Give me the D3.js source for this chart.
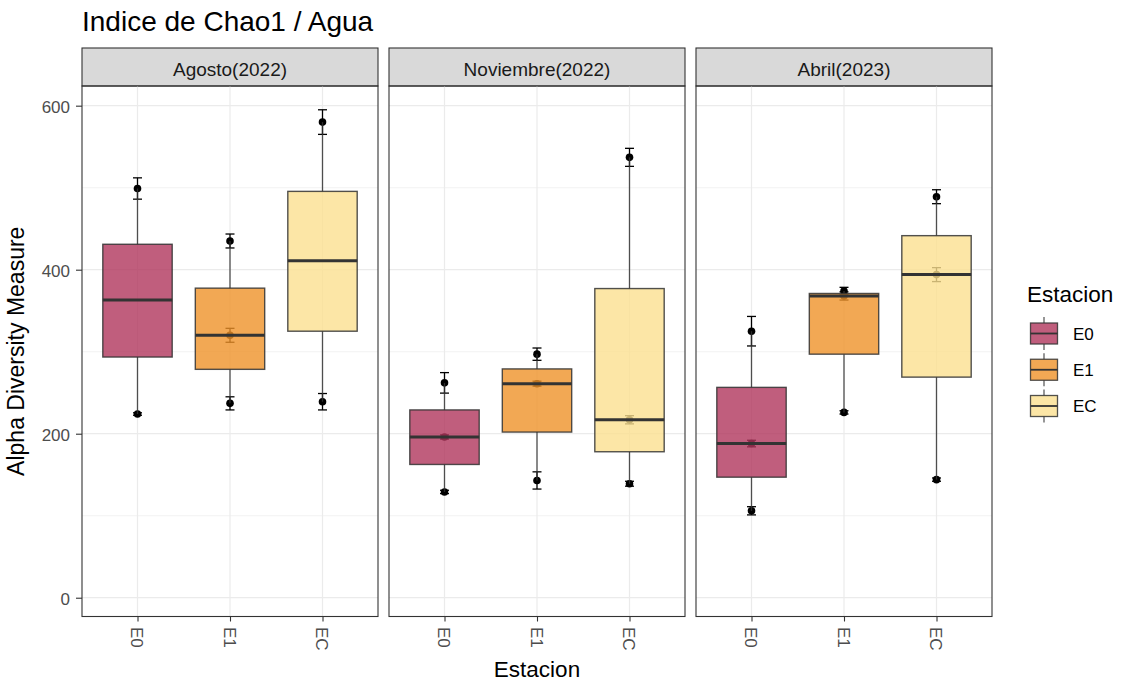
<!DOCTYPE html>
<html>
<head>
<meta charset="utf-8">
<script src="https://cdn.jsdelivr.net/npm/d3@7"></script>
<style>
  body { margin: 0; background: #fff; }
  text { font-family: "Liberation Sans", Arial, sans-serif; }
</style>
</head>
<body>
<div id="chart"></div>
<script>
// facets, stations and fill colours
const periods = ["Agosto(2022)", "Noviembre(2022)", "Abril(2023)"];
const stations = ["E0", "E1", "EC"];
const stationColors = ["#b0365c", "#ef9229", "#fbe090"];

// Chao1 of the three samples per station: [low, middle, high]
const agostoChao1 = [[224, 363, 499], [237, 320, 435], [239, 411, 580]];
const noviembreChao1 = [[129, 196, 262], [143, 261, 297], [139, 217, 537]];
const abrilChao1 = [[106, 188, 325], [226, 368, 374], [144, 394, 489]];

// standard error of each sample point (null = point not shown)
const agostoSe = [[1.5, null, 13], [8, 8.5, 8.5], [10, null, 15]];
const noviembreSe = [[2, 2.5, 12.5], [10.5, 3, 7.5], [3, 5, 11]];
const abrilSe = [[5, 4, 18], [2, 5, 4.5], [2, 8.5, 8.5]];

const yTicks = [0, 200, 400, 600];
const yMinor = [100, 300, 500];

const chao1ByPeriod = [agostoChao1, noviembreChao1, abrilChao1];
const seByPeriod = [agostoSe, noviembreSe, abrilSe];

// layout
let W = 1125, H = 684;
let panelTop = 86, panelBottom = 616.5, stripTop = 48;
let panelW = 296, panelGap = 11, firstLeft = 82;

let svg = d3.select("#chart")
    .append("svg")
    .attr("width", W)
    .attr("height", H);

let y = d3.scaleLinear()
    .domain([-22.9, 624])
    .range([panelBottom, panelTop]);

let x = d3.scalePoint()
    .domain(stations)
    .range([0, panelW])
    .padding(0.6);

let step = x.step();
let boxW = step * 0.75;

// title
svg.append("text")
    .attr("x", 82)
    .attr("y", 31)
    .attr("font-size", 28)
    .attr("fill", "#000")
    .text("Indice de Chao1 / Agua");

periods.forEach(function (period, pi) {
    let left = firstLeft + pi * (panelW + panelGap);
    let g = svg.append("g").attr("transform", "translate(" + left + ",0)");

    // strip
    g.append("rect")
        .attr("x", 0).attr("y", stripTop)
        .attr("width", panelW).attr("height", panelTop - stripTop)
        .attr("fill", "#d9d9d9")
        .attr("stroke", "#333").attr("stroke-width", 1.1);
    g.append("text")
        .attr("x", panelW / 2).attr("y", 76)
        .attr("text-anchor", "middle")
        .attr("font-size", 19)
        .attr("fill", "#1a1a1a")
        .text(period);

    // grid
    g.selectAll(".minor")
        .data(yMinor).enter().append("line")
        .attr("x1", 0).attr("x2", panelW)
        .attr("y1", d => y(d)).attr("y2", d => y(d))
        .attr("stroke", "#ebebeb").attr("stroke-width", 0.6);
    g.selectAll(".major")
        .data(yTicks).enter().append("line")
        .attr("x1", 0).attr("x2", panelW)
        .attr("y1", d => y(d)).attr("y2", d => y(d))
        .attr("stroke", "#ebebeb").attr("stroke-width", 1.2);
    g.selectAll(".vgrid")
        .data(stations).enter().append("line")
        .attr("x1", d => x(d)).attr("x2", d => x(d))
        .attr("y1", panelTop).attr("y2", panelBottom)
        .attr("stroke", "#ebebeb").attr("stroke-width", 1.2);

    let vals = chao1ByPeriod[pi];
    let ses = seByPeriod[pi];

    // sample points with error bars (drawn below the boxes)
    let pts = [];
    stations.forEach(function (s, si) {
        vals[si].forEach(function (v, k) {
            if (ses[si][k] !== null) pts.push({ s: s, v: v, se: ses[si][k] });
        });
    });
    let pg = g.append("g");
    pts.forEach(function (d) {
        let cx = x(d.s);
        pg.append("line")
            .attr("x1", cx).attr("x2", cx)
            .attr("y1", y(d.v - d.se)).attr("y2", y(d.v + d.se))
            .attr("stroke", "#000").attr("stroke-width", 1.3);
        [d.v - d.se, d.v + d.se].forEach(function (e) {
            pg.append("line")
                .attr("x1", cx - 4.5).attr("x2", cx + 4.5)
                .attr("y1", y(e)).attr("y2", y(e))
                .attr("stroke", "#000").attr("stroke-width", 1.3);
        });
        pg.append("circle")
            .attr("cx", cx).attr("cy", y(d.v))
            .attr("r", 3.8)
            .attr("fill", "#000");
    });

    // boxplots
    stations.forEach(function (s, si) {
        let sorted = vals[si].slice().sort(d3.ascending);
        let q1 = d3.quantile(sorted, 0.25);
        let med = d3.quantile(sorted, 0.5);
        let q3 = d3.quantile(sorted, 0.75);
        let lo = d3.min(sorted), hi = d3.max(sorted);
        let cx = x(s);
        let bg = g.append("g");
        bg.append("line")
            .attr("x1", cx).attr("x2", cx)
            .attr("y1", y(hi)).attr("y2", y(q3))
            .attr("stroke", "#333").attr("stroke-opacity", 0.85).attr("stroke-width", 1.3);
        bg.append("line")
            .attr("x1", cx).attr("x2", cx)
            .attr("y1", y(q1)).attr("y2", y(lo))
            .attr("stroke", "#333").attr("stroke-opacity", 0.85).attr("stroke-width", 1.3);
        bg.append("rect")
            .attr("x", cx - boxW / 2).attr("width", boxW)
            .attr("y", y(q3)).attr("height", y(q1) - y(q3))
            .attr("fill", stationColors[si]).attr("fill-opacity", 0.8)
            .attr("stroke", "#333").attr("stroke-opacity", 0.85).attr("stroke-width", 1.4);
        bg.append("line")
            .attr("x1", cx - boxW / 2).attr("x2", cx + boxW / 2)
            .attr("y1", y(med)).attr("y2", y(med))
            .attr("stroke", "#333").attr("stroke-width", 3);
    });

    // panel border
    g.append("rect")
        .attr("x", 0).attr("y", panelTop)
        .attr("width", panelW).attr("height", panelBottom - panelTop)
        .attr("fill", "none")
        .attr("stroke", "#333").attr("stroke-width", 1.1);

    // x axis
    let xAxis = g.append("g")
        .attr("transform", "translate(0," + panelBottom + ")")
        .call(d3.axisBottom(x).tickSize(5).tickPadding(0).tickFormat(""));
    xAxis.select(".domain").remove();
    xAxis.selectAll(".tick line").attr("stroke", "#333").attr("stroke-width", 1.1);
    g.selectAll(".xlab")
        .data(stations).enter().append("text")
        .attr("transform", d => "translate(" + x(d) + ",627) rotate(90)")
        .attr("dy", "0.36em")
        .attr("font-size", 17)
        .attr("fill", "#4d4d4d")
        .text(d => d);

    // y axis on first panel
    if (pi === 0) {
        let yAxis = g.append("g")
            .call(d3.axisLeft(y).tickValues(yTicks).tickSize(6).tickPadding(6));
        yAxis.select(".domain").remove();
        yAxis.selectAll(".tick line").attr("stroke", "#333").attr("stroke-width", 1.1);
        yAxis.selectAll(".tick text")
            .attr("font-size", 17)
            .attr("font-family", "Liberation Sans, Arial, sans-serif")
            .attr("fill", "#4d4d4d")
            .attr("dy", "0.4em");
    }
});

// axis titles
svg.append("text")
    .attr("x", 537).attr("y", 677)
    .attr("text-anchor", "middle")
    .attr("font-size", 22.5)
    .text("Estacion");
svg.append("text")
    .attr("transform", "translate(24," + ((panelTop + panelBottom) / 2) + ") rotate(-90)")
    .attr("text-anchor", "middle")
    .attr("font-size", 23)
    .text("Alpha Diversity Measure");

// legend
let legend = svg.append("g");
legend.append("text")
    .attr("x", 1027).attr("y", 302)
    .attr("font-size", 22.5)
    .text("Estacion");
let keyY = d3.scalePoint().domain(stations).range([333.5, 406]);
stations.forEach(function (s, si) {
    let cy = keyY(s);
    let cx = 1044;
    legend.append("line")
        .attr("x1", cx).attr("x2", cx)
        .attr("y1", cy - 16.5).attr("y2", cy + 16.5)
        .attr("stroke", "#333").attr("stroke-opacity", 0.85).attr("stroke-width", 1.2);
    legend.append("rect")
        .attr("x", 1030.5).attr("y", cy - 10.5)
        .attr("width", 27).attr("height", 21)
        .attr("fill", "#fff");
    legend.append("rect")
        .attr("x", 1030.5).attr("y", cy - 10.5)
        .attr("width", 27).attr("height", 21)
        .attr("fill", stationColors[si]).attr("fill-opacity", 0.8)
        .attr("stroke", "#333").attr("stroke-opacity", 0.85).attr("stroke-width", 1.3);
    legend.append("line")
        .attr("x1", 1030.5).attr("x2", 1057.5)
        .attr("y1", cy).attr("y2", cy)
        .attr("stroke", "#333").attr("stroke-width", 1.8);
    legend.append("text")
        .attr("x", 1073).attr("y", cy)
        .attr("dy", "0.36em")
        .attr("font-size", 17)
        .text(s);
});
</script>
</body>
</html>
